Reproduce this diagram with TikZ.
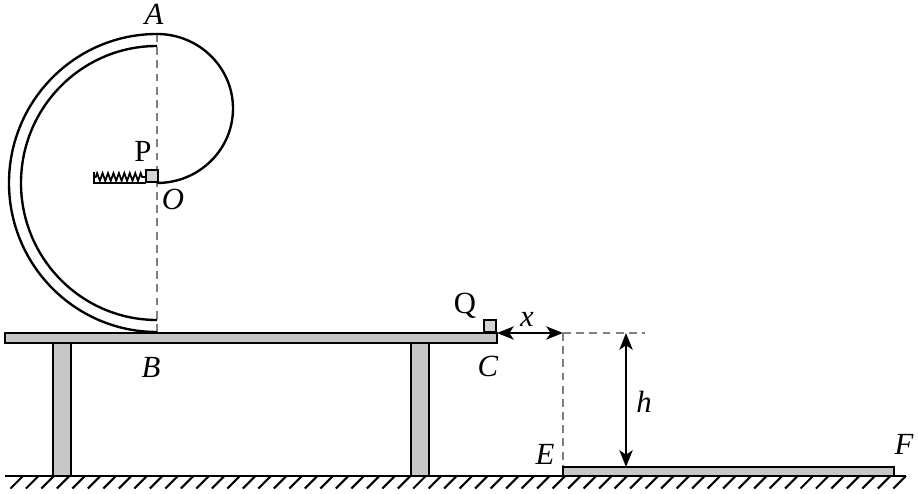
\documentclass[tikz,border=0pt]{standalone}
\usepackage{fontspec}
\setmainfont{Liberation Serif}
\usepackage{tikz}
\usetikzlibrary{arrows.meta}
\usetikzlibrary{decorations.pathmorphing}

\begin{document}
\begin{tikzpicture}[x=0.02cm,y=0.02cm,line width=1.35pt,
				plank/.style={draw,fill=black!17,inner sep=0pt,minimum size=0.24cm},
				lbl/.style={inner sep=0pt,font=\fontsize{17.5}{19}\selectfont},
				guide/.style={dash pattern=on 4.5pt off 3pt,draw=black!50,line width=1.1pt},
				dim/.style={{Stealth[length=9.5pt,width=7.5pt,inset=2.5pt]}-{Stealth[length=9.5pt,width=7.5pt,inset=2.5pt]},line width=1.35pt}]
				\useasboundingbox (0,0) rectangle (918,493);
				
				\coordinate (A) at (157,459);
				\coordinate (Ain) at (157,447);
				\coordinate (O) at (157,310);
				\coordinate (B) at (157,161);
				\coordinate (Bin) at (157,173);
				\coordinate (C) at (497,160);
				\coordinate (Cend) at (563,160);
				\coordinate (Ctop) at (645,160);
				\coordinate (E) at (563,26);
				\coordinate (Htop) at (626,160);
				\coordinate (Hbot) at (626,26);
				\coordinate (SpringL) at (94,310);
				\coordinate (SpringT) at (94,321);
				\coordinate (SpringP) at (146,316);
				\coordinate (SpringS) at (94,316);
				\coordinate (GroundL) at (5,17);
				\coordinate (GroundR) at (906,17);
				
				% dashed guides first
				\draw[guide] (A) -- (B);
				\draw[guide] (Cend) -- (E);
				\draw[guide] (Cend) -- (Ctop);
				
				% legs, table, plate
				\draw[fill=black!22] (53,150) rectangle (71,17);
				\draw[fill=black!22] (411,150) rectangle (429,17);
				\draw[fill=black!22] (5,160) rectangle (497,150);
				\draw[fill=black!22] (563,26) rectangle (894,17);
				
				% track
				\draw (B) arc (-90:-270:148 and 149);
				\draw (Bin) arc (-90:-270:136 and 137);
				\draw (A) arc (90:-90:76 and 74.5);
				
				% spring
				\draw (SpringT) -- (SpringL) -- (146,310);
				\draw[line width=1pt,decorate,decoration={zigzag,segment length=3.1pt,amplitude=2.2pt,pre length=1pt,post length=1pt}] (SpringS) -- (SpringP);
				
				% blocks
				\node[plank] (P) at (152,317) {};
				\node[plank] (Q) at (490,167) {};
				
				% ground
				\draw (GroundL) -- (GroundR);
				\foreach \i in {0,1,...,57}
				\draw[line width=1.2pt] (23+15.49*\i,17) -- ++(-12.5,-12.5);
				
				% dimensions
				\draw[dim] (C) -- (Cend);
				\draw[dim] (Htop) -- (Hbot);
				
				\node[lbl] (la) at (154,479) {\textit{A}};
				\node[lbl] (lp) at (143,342) {P};
				\node[lbl] (lo) at (173,294) {\textit{O}};
				\node[lbl] (lb) at (151,126) {\textit{B}};
				\node[lbl] (lc) at (488,127) {\textit{C}};
				\node[lbl] (lq) at (465,187) {Q};
				\node[lbl] (lx) at (527,174) {\textit{x}};
				\node[lbl] (lh) at (644,91) {\textit{h}};
				\node[lbl] (le) at (545,39) {\textit{E}};
				\node[lbl] (lf) at (904,49) {\textit{F}};
			\end{tikzpicture}
\end{document}
